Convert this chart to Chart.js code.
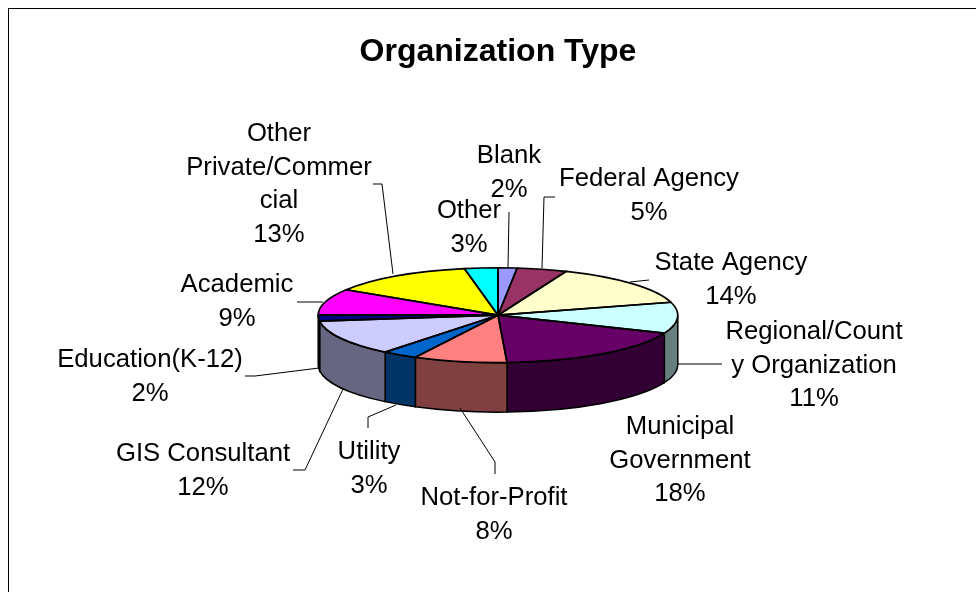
<!DOCTYPE html>
<html>
<head>
<meta charset="utf-8">
<style>html,body{margin:0;padding:0;background:#fff;overflow:hidden}canvas{display:block}</style>
<script src="https://cdn.jsdelivr.net/npm/chart.js@4"></script>
</head>
<body>
<canvas id="c" width="976" height="592"></canvas>
<script>
const categories = ["Blank","Federal Agency","State Agency","Regional/County Organization","Municipal Government","Not-for-Profit","Utility","GIS Consultant","Education(K-12)","Academic","Other Private/Commercial","Other"];
const shares = [1.7,4.5,14.4,10.6,18,8.4,3.2,12.2,2,9,13,3];
const faceColors = ["#9999FF","#993366","#FFFFCC","#CCFFFF","#660066","#FF8080","#0066CC","#CCCCFF","#000080","#FF00FF","#FFFF00","#00FFFF"];
const wallColors = ["#4D4D80","#4D1A33","#808066","#668080","#330033","#804040","#003366","#666680","#000040","#800080","#808000","#008080"];
const labelLines = [["Blank"],["Federal Agency"],["State Agency"],["Regional/Count","y Organization"],["Municipal","Government"],["Not-for-Profit"],["Utility"],["GIS Consultant"],["Education(K-12)"],["Academic"],["Other","Private/Commer","cial"],["Other"]];
const labelX = [509,649,731,814,680,494,369,203,150,237,279,469];
const labelTopY = [156,179,263,332,427,498,452,454,360,285,134,211];
const leaders = [
  [[509,212],[508,268]],
  [[555,197],[544,197],[542,268]],
  [[630,282],[649,280]],
  [[678,364],[722,364]],
  null,
  [[460,408],[495,462],[495,474]],
  [[396,405],[368,417],[368,428]],
  [[343,389],[305,470],[293,470]],
  [[319,368],[255,376],[245,376]],
  [[297,302],[323,302]],
  [[373,184],[382,184],[393,274]],
  null
];
const FLAT = 47.5/180, DEPTH = 49.5, LINE_GAP = 33.5;

const pie3d = {
  id:"pie3d",
  beforeDatasetsDraw(chart){
    const ctx = chart.ctx, arcs = chart.getDatasetMeta(0).data;
    ctx.save();
    ctx.strokeStyle="#000"; ctx.lineWidth=1.5;
    const cx=arcs[0].x, cy=arcs[0].y, rx=arcs[0].outerRadius, ry=rx*FLAT;
    arcs.forEach((a,i)=>{
      const s=Math.max(a.startAngle,0), e=Math.min(a.endAngle,Math.PI);
      if(e<=s) return;
      ctx.beginPath();
      ctx.ellipse(cx,cy,rx,ry,0,s,e,false);
      ctx.lineTo(cx+rx*Math.cos(e),cy+ry*Math.sin(e)+DEPTH);
      ctx.ellipse(cx,cy+DEPTH,rx,ry,0,e,s,true);
      ctx.closePath();
      ctx.fillStyle=wallColors[i];
      ctx.fill(); ctx.stroke();
    });
    ctx.restore();
    ctx.save();
    ctx.translate(cx,cy); ctx.scale(1,FLAT); ctx.translate(-cx,-cy);
  },
  afterDatasetsDraw(chart){
    const ctx = chart.ctx, arcs = chart.getDatasetMeta(0).data;
    ctx.restore();
    const cx=arcs[0].x, cy=arcs[0].y, rx=arcs[0].outerRadius, ry=rx*FLAT;
    ctx.save();
    ctx.strokeStyle="#000"; ctx.lineWidth=1.7; ctx.lineJoin="round";
    arcs.forEach(a=>{
      ctx.beginPath();
      ctx.moveTo(cx,cy);
      ctx.ellipse(cx,cy,rx,ry,0,a.startAngle,a.endAngle,false);
      ctx.closePath();
      ctx.stroke();
    });
    ctx.restore();
  },
  afterDraw(chart){
    const ctx = chart.ctx;
    ctx.save();
    ctx.strokeStyle="#000"; ctx.lineWidth=1;
    ctx.strokeRect(8.5,8.5,1100,1100);
    leaders.forEach(l=>{
      if(!l) return;
      ctx.beginPath();
      l.forEach((p,i)=> i?ctx.lineTo(p[0],p[1]):ctx.moveTo(p[0],p[1]));
      ctx.stroke();
    });
    ctx.fillStyle="#000";
    ctx.font='25.7px "Liberation Sans", Arial, sans-serif';
    ctx.textAlign="center"; ctx.textBaseline="middle";
    labelLines.forEach((lines,i)=>{
      const all = lines.concat(Math.round(shares[i])+"%");
      all.forEach((t,j)=>ctx.fillText(t,labelX[i],labelTopY[i]+j*LINE_GAP));
    });
    ctx.restore();
  }
};

new Chart(document.getElementById("c"),{
  type:"pie",
  data:{labels:categories,datasets:[{data:shares,backgroundColor:faceColors,borderWidth:0}]},
  options:{
    responsive:false,
    animation:false,
    layout:{padding:{left:20,right:0,top:0,bottom:97}},
    plugins:{
      legend:{display:false},
      tooltip:{enabled:false},
      title:{display:true,text:"Organization Type",color:"#000",
        font:{family:'"Liberation Sans", Arial, sans-serif',size:32,weight:"bold"},
        padding:{top:33,bottom:64}}
    }
  },
  plugins:[pie3d]
});
</script>
</body>
</html>
